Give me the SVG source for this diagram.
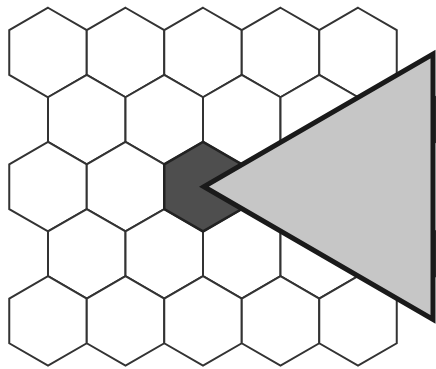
<svg xmlns="http://www.w3.org/2000/svg" xmlns:xlink="http://www.w3.org/1999/xlink" width="436" height="369" viewBox="0 0 436 369">
<style>
.h{fill:#ffffff;stroke:#333333;stroke-width:2;stroke-linejoin:miter}
.d{fill:#4e4e4e;stroke:#222222;stroke-width:2.5}
.t{fill:#c6c6c6;stroke:#1a1a1a;stroke-width:5;stroke-linejoin:miter;stroke-miterlimit:10}
</style>
<defs>
<polygon id="hex" points="0,-44.75 38.75,-22.375 38.75,22.375 0,44.75 -38.75,22.375 -38.75,-22.375"/>
</defs>
<rect width="436" height="369" fill="#ffffff"/>
<g id="grid">
<g id="r1c1"><use xlink:href="#hex" class="h" x="48" y="52.5"/></g>
<g id="r1c2"><use xlink:href="#hex" class="h" x="125.5" y="52.5"/></g>
<g id="r1c3"><use xlink:href="#hex" class="h" x="203" y="52.5"/></g>
<g id="r1c4"><use xlink:href="#hex" class="h" x="280.5" y="52.5"/></g>
<g id="r1c5"><use xlink:href="#hex" class="h" x="358" y="52.5"/></g>
<g id="r2c1"><use xlink:href="#hex" class="h" x="86.75" y="119.6"/></g>
<g id="r2c2"><use xlink:href="#hex" class="h" x="164.25" y="119.6"/></g>
<g id="r2c3"><use xlink:href="#hex" class="h" x="241.75" y="119.6"/></g>
<g id="r2c4"><use xlink:href="#hex" class="h" x="319.25" y="119.6"/></g>
<g id="r2c5"><use xlink:href="#hex" class="h" x="396.75" y="119.6"/></g>
<g id="r3c1"><use xlink:href="#hex" class="h" x="48" y="186.7"/></g>
<g id="r3c2"><use xlink:href="#hex" class="h" x="125.5" y="186.7"/></g>
<g id="r3c4"><use xlink:href="#hex" class="h" x="280.5" y="186.7"/></g>
<g id="r3c5"><use xlink:href="#hex" class="h" x="358" y="186.7"/></g>
<g id="r4c1"><use xlink:href="#hex" class="h" x="86.75" y="253.8"/></g>
<g id="r4c2"><use xlink:href="#hex" class="h" x="164.25" y="253.8"/></g>
<g id="r4c3"><use xlink:href="#hex" class="h" x="241.75" y="253.8"/></g>
<g id="r4c4"><use xlink:href="#hex" class="h" x="319.25" y="253.8"/></g>
<g id="r4c5"><use xlink:href="#hex" class="h" x="396.75" y="253.8"/></g>
<g id="r5c1"><use xlink:href="#hex" class="h" x="48" y="320.9"/></g>
<g id="r5c2"><use xlink:href="#hex" class="h" x="125.5" y="320.9"/></g>
<g id="r5c3"><use xlink:href="#hex" class="h" x="203" y="320.9"/></g>
<g id="r5c4"><use xlink:href="#hex" class="h" x="280.5" y="320.9"/></g>
<g id="r5c5"><use xlink:href="#hex" class="h" x="358" y="320.9"/></g>
</g>
<g id="dark-hex"><use xlink:href="#hex" class="d" x="203" y="186.7"/></g>
<g id="triangle"><polygon class="t" points="204,186.7 433,54 433,319.4"/></g>
</svg>
